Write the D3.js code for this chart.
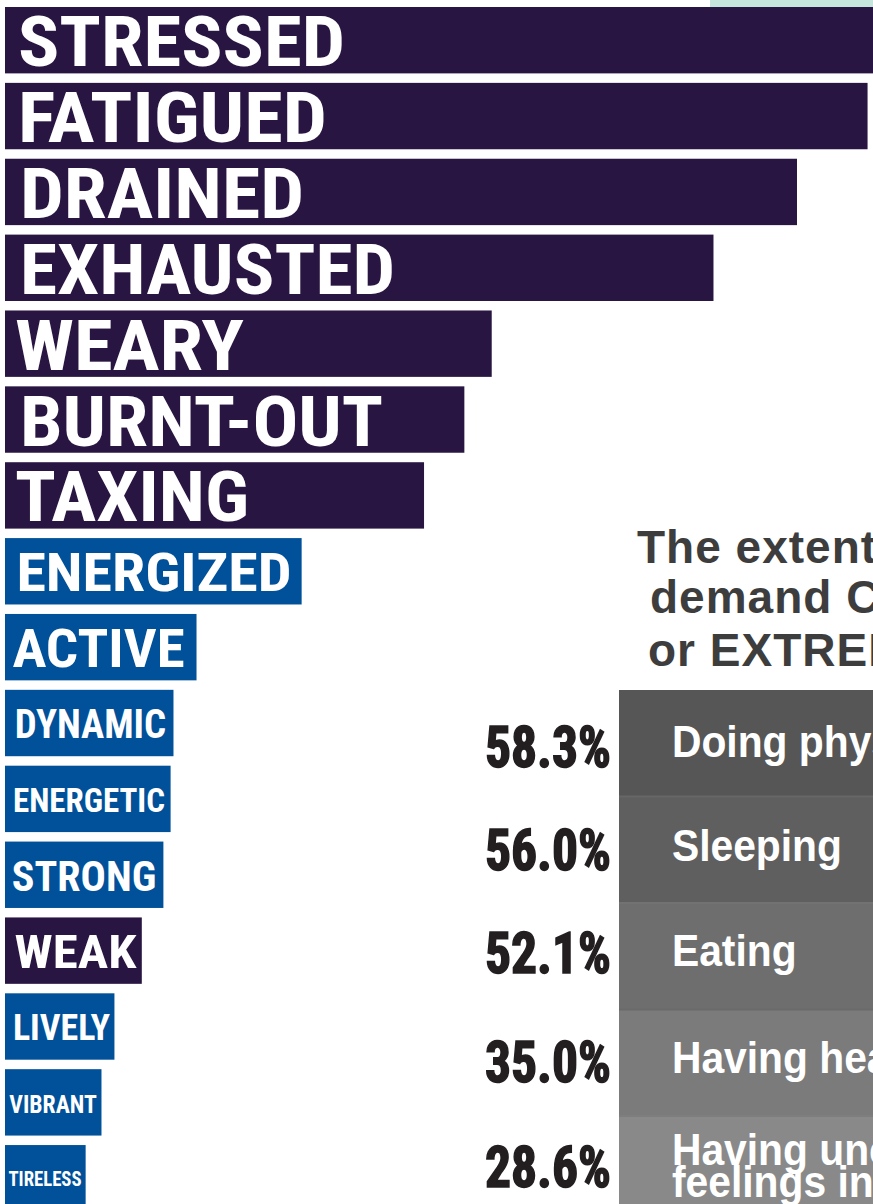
<!DOCTYPE html>
<html>
<head>
<meta charset="utf-8">
<script src="https://cdn.jsdelivr.net/npm/d3@7"></script>
<style>
html,body{margin:0;padding:0;background:#fff;overflow:hidden}
svg{display:block}
</style>
</head>
<body>
<svg id="chart" width="873" height="1204"></svg>
<script>
// ---- data ----
const words = ["STRESSED","FATIGUED","DRAINED","EXHAUSTED","WEARY","BURNT-OUT","TAXING",
  "ENERGIZED","ACTIVE","DYNAMIC","ENERGETIC","STRONG","WEAK","LIVELY","VIBRANT","TIRELESS"];
const wordShare = [61.0, 59.9, 55.0, 49.2, 33.8, 31.9, 29.1, 20.6, 13.3, 11.7, 11.5, 11.0, 9.5, 7.6, 6.7, 5.6];
const wordTone = ["neg","neg","neg","neg","neg","neg","neg","pos","pos","pos","pos","pos","neg","pos","pos","pos"];

const titleLines = ["The extent to which these activities", "demand CONSIDERABLE", "or EXTREME effort"];
const activities = [["Doing physical activity"], ["Sleeping"], ["Eating"], ["Having headaches"],
  ["Having uncomfortable", "feelings in the body"]];
const activityShare = [58.3, 56.0, 52.1, 35.0, 28.6];

// ---- label styling (not data) ----
const labelFontSize = [70,70,70,70,70,70,70,53,53,40,33.5,42,46,36,26.5,19.5];
const labelInkStart = [20,20,22,22,17,22,17,18,14,16,14,13,16,14,10,9];
const labelInkEnd   = [343,325,302,393,242,381,247,290,183,165,164,155,135,109,96,81];

const svg = d3.select("#chart");
const W = 873, H = 1204;
const toneColor = {neg: "#291541", pos: "#005199"};
const condensed = "'Liberation Sans Narrow','Roboto Condensed','DejaVu Sans Condensed','Liberation Sans',sans-serif";

// decorative mint strip at top right
svg.append("rect").attr("x", 710).attr("y", 0).attr("width", 163).attr("height", 7).attr("fill", "#c6e6dd");

// ---- word bars ----
const x = d3.scaleLinear().domain([0, 60]).range([5, 869]);
const step = 75.87;
const y = d3.scaleBand().domain(words).range([7, 7 + step * (words.length - 0.125)]).paddingInner(0.125).paddingOuter(0);
const bw = y.bandwidth();

const rows = svg.append("g").selectAll("g").data(words).join("g");
rows.append("rect")
  .attr("x", x(0))
  .attr("y", d => y(d))
  .attr("width", (d, i) => x(wordShare[i]) - x(0))
  .attr("height", bw)
  .attr("fill", (d, i) => toneColor[wordTone[i]]);

rows.append("text")
  .attr("x", (d, i) => labelInkStart[i] - 0.03 * labelFontSize[i])
  .attr("y", (d, i) => y(d) + bw / 2 + 0.716 * labelFontSize[i] / 2 + 1)
  .attr("font-family", condensed)
  .attr("font-weight", "bold")
  .attr("font-size", (d, i) => labelFontSize[i])
  .attr("fill", "#fff")
  .attr("textLength", (d, i) => labelInkEnd[i] - labelInkStart[i] + 0.06 * labelFontSize[i])
  .attr("lengthAdjust", "spacingAndGlyphs")
  .text(d => d);

// ---- title ----
const titleX = [637, 650, 648];
const titleY = [563, 613, 666];
svg.append("g").selectAll("text").data(titleLines).join("text")
  .attr("x", (d, i) => titleX[i])
  .attr("y", (d, i) => titleY[i])
  .attr("font-family", "'Liberation Sans',Arial,Helvetica,sans-serif")
  .attr("font-weight", "bold")
  .attr("font-size", 46)
  .attr("letter-spacing", 1)
  .attr("fill", "#3d3d3d")
  .text(d => d);

// ---- activity table ----
const rowY = d3.scaleBand().domain(d3.range(activities.length)).range([690, 690 + 106.5 * activities.length]).paddingInner(0);
const rowFill = ["#565656", "#5f5f5f", "#6e6e6e", "#7b7b7b", "#898989"];
const sepFill = [null, "#676767", "#727272", "#6a6a6a", "#7e7e7e"];
const tbl = svg.append("g");
tbl.selectAll("rect.row").data(activities).join("rect").attr("class", "row")
  .attr("x", 619).attr("y", (d, i) => rowY(i))
  .attr("width", W - 619).attr("height", rowY.bandwidth() + 1)
  .attr("fill", (d, i) => rowFill[i]);
tbl.selectAll("rect.sep").data(activities.slice(1)).join("rect").attr("class", "sep")
  .attr("x", 619).attr("y", (d, i) => rowY(i + 1) - 1)
  .attr("width", W - 619).attr("height", 2)
  .attr("fill", (d, i) => sepFill[i + 1]);

// percentage values
const pct = tbl.selectAll("g.pct").data(activityShare).join("g").attr("class", "pct");
const pctText = pct.append("text")
  .attr("x", 0).attr("y", 0)
  .attr("font-family", condensed)
  .attr("font-weight", "bold")
  .attr("font-size", 58)
  .attr("fill", "#231f20")
  .attr("stroke", "#231f20")
  .attr("stroke-width", 1.6)
  .text(d => d3.format(".1f")(d) + "%");
const refW = pctText.nodes()[0].getComputedTextLength();
const pctScale = 126 / refW;
const pctBase = [767, 870, 973, 1082, 1187];
pct.attr("transform", (d, i) => `translate(485,${pctBase[i]}) scale(${pctScale},1)`);

// activity labels
const lab = tbl.selectAll("g.lab").data(activities).join("g").attr("class", "lab");
const labText = lab.append("text")
  .attr("font-family", "'Liberation Sans',Arial,sans-serif")
  .attr("font-weight", "bold")
  .attr("font-size", 44)
  .attr("fill", "#fff");
labText.selectAll("tspan").data(d => d).join("tspan")
  .attr("x", 0)
  .attr("y", (d, j) => j * 32)
  .text(d => d);
const sleepW = labText.nodes()[1].getComputedTextLength();
const labScale = 170 / sleepW;
const labBase = [757, 861, 966, 1073, 1165];
lab.attr("transform", (d, i) => `translate(672,${labBase[i]}) scale(${labScale},1)`);
</script>
</body>
</html>
